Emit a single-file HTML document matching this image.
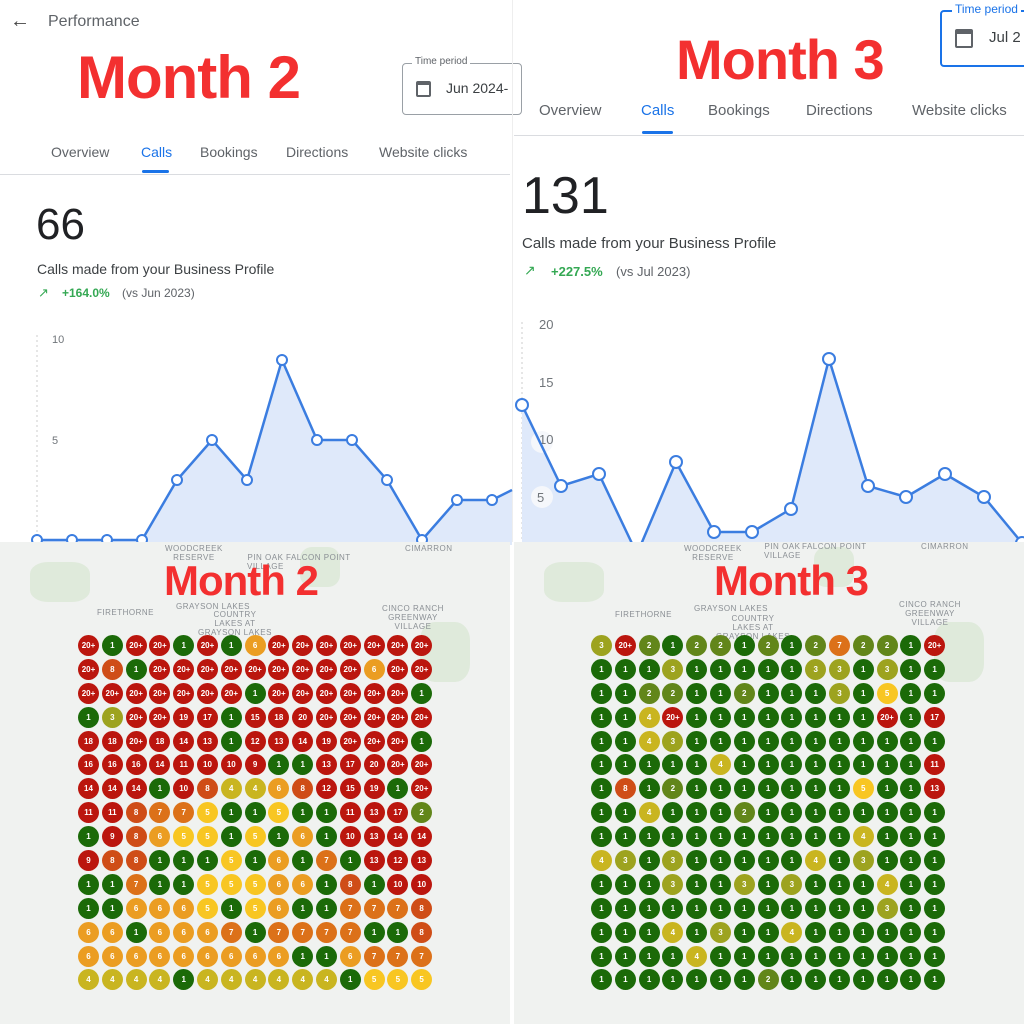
<!DOCTYPE html>
<html><head><meta charset="utf-8">
<style>
*{margin:0;padding:0;box-sizing:border-box}
body{width:1024px;height:1024px;position:relative;overflow:hidden;background:#fff;font-family:"Liberation Sans",Arial,sans-serif;color:#3c4043}
.a{position:absolute;white-space:nowrap}
.big{font-weight:bold;color:#f33030;letter-spacing:-1px}
.tab{font-size:14px;color:#5f6368}
.map{position:absolute;top:542px;height:482px;background:#f0f2f0;overflow:hidden}
.ml{position:absolute;font-size:8px;color:#8a8f94;letter-spacing:.5px;text-align:center;line-height:9px}
.g{position:absolute;display:grid;grid-template-columns:repeat(15,23.8px);grid-auto-rows:23.9px}
.g b{width:21px;height:21px;border-radius:50%;font-size:8px;font-weight:bold;color:#fff;display:flex;align-items:center;justify-content:center;background:#1b6a08}
.gr{position:absolute;background:#dfeadb;border-radius:30%}
</style></head><body>

<!-- LEFT TOP -->
<div class="a" style="left:10px;top:10px;font-size:20px;color:#444">&#8592;</div>
<div class="a" style="left:48px;top:13px;font-size:16px;color:#5f6368">Performance</div>
<div class="a big" style="left:77px;top:46px;font-size:60px;line-height:64px">Month 2</div>
<div class="a" style="left:402px;top:63px;width:120px;height:52px;border:1px solid #9aa0a6;border-radius:4px"></div>
<div class="a" style="left:412px;top:56px;font-size:10px;color:#5f6368;background:#fff;padding:0 3px">Time period</div>
<div class="a" style="left:416px;top:81px;width:15px;height:16px;border:2px solid #5f6368;border-top-width:4px;border-radius:2px"></div>
<div class="a" style="left:446px;top:80px;font-size:14px;color:#3c4043">Jun 2024-</div>
<div class="a tab" style="left:51px;top:144px">Overview</div>
<div class="a tab" style="left:141px;top:144px;color:#1a73e8">Calls</div>
<div class="a tab" style="left:200px;top:144px">Bookings</div>
<div class="a tab" style="left:286px;top:144px">Directions</div>
<div class="a tab" style="left:379px;top:144px">Website clicks</div>
<div class="a" style="left:142px;top:170px;width:27px;height:3px;background:#1a73e8;border-radius:2px"></div>
<div class="a" style="left:0;top:174px;width:510px;height:1px;background:#dadce0"></div>
<div class="a" style="left:36px;top:200px;font-size:44px;color:#202124">66</div>
<div class="a" style="left:37px;top:261px;font-size:14px;color:#3c4043">Calls made from your Business Profile</div>
<div class="a" style="left:38px;top:285px;font-size:13px;color:#34a853">&#8599;</div>
<div class="a" style="left:62px;top:286px;font-size:12px;color:#34a853;font-weight:bold">+164.0%</div>
<div class="a" style="left:122px;top:286px;font-size:12px;color:#5f6368">(vs Jun 2023)</div>

<!-- RIGHT TOP -->
<div class="a" style="left:512px;top:0;width:1px;height:542px;background:#eee"></div>
<div class="a big" style="left:676px;top:30px;font-size:56px;line-height:60px">Month 3</div>
<div class="a" style="left:940px;top:10px;width:100px;height:57px;border:2px solid #1a73e8;border-radius:4px"></div>
<div class="a" style="left:952px;top:2px;font-size:12px;color:#1a73e8;background:#fff;padding:0 3px">Time period</div>
<div class="a" style="left:955px;top:29px;width:18px;height:19px;border:2px solid #5f6368;border-top-width:5px;border-radius:2px"></div>
<div class="a" style="left:989px;top:29px;font-size:15px;color:#3c4043">Jul 2</div>
<div class="a tab" style="left:539px;top:102px;font-size:15px">Overview</div>
<div class="a tab" style="left:641px;top:102px;font-size:15px;color:#1a73e8">Calls</div>
<div class="a tab" style="left:708px;top:102px;font-size:15px">Bookings</div>
<div class="a tab" style="left:806px;top:102px;font-size:15px">Directions</div>
<div class="a tab" style="left:912px;top:102px;font-size:15px">Website clicks</div>
<div class="a" style="left:642px;top:131px;width:31px;height:3px;background:#1a73e8;border-radius:2px"></div>
<div class="a" style="left:514px;top:135px;width:510px;height:1px;background:#dadce0"></div>
<div class="a" style="left:522px;top:166px;font-size:52px;color:#202124">131</div>
<div class="a" style="left:522px;top:235px;font-size:15px;color:#3c4043">Calls made from your Business Profile</div>
<div class="a" style="left:524px;top:262px;font-size:14px;color:#34a853">&#8599;</div>
<div class="a" style="left:551px;top:264px;font-size:13px;color:#34a853;font-weight:bold">+227.5%</div>
<div class="a" style="left:616px;top:264px;font-size:13px;color:#5f6368">(vs Jul 2023)</div>

<!-- CHARTS -->
<svg class="a" style="left:0;top:0" width="1024" height="560">
 <line x1="37" y1="335" x2="37" y2="545" stroke="#ccc" stroke-dasharray="2,3"/>
 <text x="52" y="343" font-size="11" fill="#70757a" font-family="Liberation Sans">10</text>
 <text x="52" y="444" font-size="11" fill="#70757a" font-family="Liberation Sans">5</text>
 <polygon fill="#dfe9fa" points="37,540 72,540 107,540 142,540 177,480 212,440 247,480 282,360 317,440 352,440 387,480 422,540 457,500 492,500 512,490 512,545 37,545"/>
 <polyline fill="none" stroke="#3b7de0" stroke-width="2.5" points="37,540 72,540 107,540 142,540 177,480 212,440 247,480 282,360 317,440 352,440 387,480 422,540 457,500 492,500 512,490"/>
 <g fill="#fff" stroke="#3b7de0" stroke-width="2">
 <circle cx="37" cy="540" r="5"/><circle cx="72" cy="540" r="5"/><circle cx="107" cy="540" r="5"/><circle cx="142" cy="540" r="5"/><circle cx="177" cy="480" r="5"/><circle cx="212" cy="440" r="5"/><circle cx="247" cy="480" r="5"/><circle cx="282" cy="360" r="5"/><circle cx="317" cy="440" r="5"/><circle cx="352" cy="440" r="5"/><circle cx="387" cy="480" r="5"/><circle cx="422" cy="540" r="5"/><circle cx="457" cy="500" r="5"/><circle cx="492" cy="500" r="5"/>
 </g>
 <line x1="522" y1="322" x2="522" y2="545" stroke="#ccc" stroke-dasharray="2,3"/>
 <polygon fill="#dfe9fa" points="522,405 561,486 599,474 637,554 676,462 714,532 752,532 791,509 829,359 868,486 906,497 945,474 984,497 1022,543 1024,545 522,545"/>
 <text x="539" y="329" font-size="13" fill="#70757a" font-family="Liberation Sans">20</text>
 <text x="539" y="387" font-size="13" fill="#70757a" font-family="Liberation Sans">15</text>
 <circle cx="542" cy="442" r="11" fill="#f5f7fb"/><text x="539" y="444" font-size="13" fill="#70757a" font-family="Liberation Sans">10</text>
 <circle cx="542" cy="497" r="11" fill="#f5f7fb"/><text x="537" y="502" font-size="13" fill="#70757a" font-family="Liberation Sans">5</text>
 <polyline fill="none" stroke="#3b7de0" stroke-width="2.5" points="522,405 561,486 599,474 637,554 676,462 714,532 752,532 791,509 829,359 868,486 906,497 945,474 984,497 1022,543"/>
 <g fill="#fff" stroke="#3b7de0" stroke-width="2">
 <circle cx="522" cy="405" r="6"/><circle cx="561" cy="486" r="6"/><circle cx="599" cy="474" r="6"/><circle cx="676" cy="462" r="6"/><circle cx="714" cy="532" r="6"/><circle cx="752" cy="532" r="6"/><circle cx="791" cy="509" r="6"/><circle cx="829" cy="359" r="6"/><circle cx="868" cy="486" r="6"/><circle cx="906" cy="497" r="6"/><circle cx="945" cy="474" r="6"/><circle cx="984" cy="497" r="6"/><circle cx="1022" cy="543" r="6"/>
 </g>
</svg>

<!-- MAPS -->
<div class="map" style="left:0;width:510px">
 <div class="gr" style="left:300px;top:5px;width:40px;height:40px"></div>
 <div class="gr" style="left:420px;top:80px;width:50px;height:60px"></div>
 <div class="gr" style="left:30px;top:20px;width:60px;height:40px"></div>
 <div class="ml" style="left:165px;top:2px">WOODCREEK<br>RESERVE</div>
 <div class="ml" style="left:247px;top:11px">PIN OAK<br>VILLAGE</div>
 <div class="ml" style="left:286px;top:11px">FALCON POINT</div>
 <div class="ml" style="left:405px;top:2px">CIMARRON</div>
 <div class="ml" style="left:97px;top:66px">FIRETHORNE</div>
 <div class="ml" style="left:176px;top:60px">GRAYSON LAKES</div>
 <div class="ml" style="left:198px;top:68px">COUNTRY<br>LAKES AT<br>GRAYSON LAKES</div>
 <div class="ml" style="left:382px;top:62px">CINCO RANCH<br>GREENWAY<br>VILLAGE</div>
 <div class="a big" style="left:164px;top:15px;font-size:42px;line-height:48px">Month 2</div>
</div>
<div class="map" style="left:514px;width:510px">
 <div class="gr" style="left:300px;top:5px;width:40px;height:40px"></div>
 <div class="gr" style="left:420px;top:80px;width:50px;height:60px"></div>
 <div class="gr" style="left:30px;top:20px;width:60px;height:40px"></div>
 <div class="ml" style="left:170px;top:2px">WOODCREEK<br>RESERVE</div>
 <div class="ml" style="left:250px;top:0">PIN OAK<br>VILLAGE</div>
 <div class="ml" style="left:288px;top:0">FALCON POINT</div>
 <div class="ml" style="left:407px;top:0">CIMARRON</div>
 <div class="ml" style="left:101px;top:68px">FIRETHORNE</div>
 <div class="ml" style="left:180px;top:62px">GRAYSON LAKES</div>
 <div class="ml" style="left:202px;top:72px">COUNTRY<br>LAKES AT<br>GRAYSON LAKES</div>
 <div class="ml" style="left:385px;top:58px">CINCO RANCH<br>GREENWAY<br>VILLAGE</div>
 <div class="a big" style="left:200px;top:15px;font-size:42px;line-height:48px">Month 3</div>
</div>

<div class="g" id="g1" style="left:78px;top:635px">
<b>20+</b><b>1</b><b>20+</b><b>20+</b><b>1</b><b>20+</b><b>1</b><b>6</b><b>20+</b><b>20+</b><b>20+</b><b>20+</b><b>20+</b><b>20+</b><b>20+</b>
<b>20+</b><b>8</b><b>1</b><b>20+</b><b>20+</b><b>20+</b><b>20+</b><b>20+</b><b>20+</b><b>20+</b><b>20+</b><b>20+</b><b>6</b><b>20+</b><b>20+</b>
<b>20+</b><b>20+</b><b>20+</b><b>20+</b><b>20+</b><b>20+</b><b>20+</b><b>1</b><b>20+</b><b>20+</b><b>20+</b><b>20+</b><b>20+</b><b>20+</b><b>1</b>
<b>1</b><b>3</b><b>20+</b><b>20+</b><b>19</b><b>17</b><b>1</b><b>15</b><b>18</b><b>20</b><b>20+</b><b>20+</b><b>20+</b><b>20+</b><b>20+</b>
<b>18</b><b>18</b><b>20+</b><b>18</b><b>14</b><b>13</b><b>1</b><b>12</b><b>13</b><b>14</b><b>19</b><b>20+</b><b>20+</b><b>20+</b><b>1</b>
<b>16</b><b>16</b><b>16</b><b>14</b><b>11</b><b>10</b><b>10</b><b>9</b><b>1</b><b>1</b><b>13</b><b>17</b><b>20</b><b>20+</b><b>20+</b>
<b>14</b><b>14</b><b>14</b><b>1</b><b>10</b><b>8</b><b>4</b><b>4</b><b>6</b><b>8</b><b>12</b><b>15</b><b>19</b><b>1</b><b>20+</b>
<b>11</b><b>11</b><b>8</b><b>7</b><b>7</b><b>5</b><b>1</b><b>1</b><b>5</b><b>1</b><b>1</b><b>11</b><b>13</b><b>17</b><b>2</b>
<b>1</b><b>9</b><b>8</b><b>6</b><b>5</b><b>5</b><b>1</b><b>5</b><b>1</b><b>6</b><b>1</b><b>10</b><b>13</b><b>14</b><b>14</b>
<b>9</b><b>8</b><b>8</b><b>1</b><b>1</b><b>1</b><b>5</b><b>1</b><b>6</b><b>1</b><b>7</b><b>1</b><b>13</b><b>12</b><b>13</b>
<b>1</b><b>1</b><b>7</b><b>1</b><b>1</b><b>5</b><b>5</b><b>5</b><b>6</b><b>6</b><b>1</b><b>8</b><b>1</b><b>10</b><b>10</b>
<b>1</b><b>1</b><b>6</b><b>6</b><b>6</b><b>5</b><b>1</b><b>5</b><b>6</b><b>1</b><b>1</b><b>7</b><b>7</b><b>7</b><b>8</b>
<b>6</b><b>6</b><b>1</b><b>6</b><b>6</b><b>6</b><b>7</b><b>1</b><b>7</b><b>7</b><b>7</b><b>7</b><b>1</b><b>1</b><b>8</b>
<b>6</b><b>6</b><b>6</b><b>6</b><b>6</b><b>6</b><b>6</b><b>6</b><b>6</b><b>1</b><b>1</b><b>6</b><b>7</b><b>7</b><b>7</b>
<b>4</b><b>4</b><b>4</b><b>4</b><b>1</b><b>4</b><b>4</b><b>4</b><b>4</b><b>4</b><b>4</b><b>1</b><b>5</b><b>5</b><b>5</b>
</div>

<div class="g" id="g2" style="left:591px;top:635px">
<b>3</b><b>20+</b><b>2</b><b>1</b><b>2</b><b>2</b><b>1</b><b>2</b><b>1</b><b>2</b><b>7</b><b>2</b><b>2</b><b>1</b><b>20+</b>
<b>1</b><b>1</b><b>1</b><b>3</b><b>1</b><b>1</b><b>1</b><b>1</b><b>1</b><b>3</b><b>3</b><b>1</b><b>3</b><b>1</b><b>1</b>
<b>1</b><b>1</b><b>2</b><b>2</b><b>1</b><b>1</b><b>2</b><b>1</b><b>1</b><b>1</b><b>3</b><b>1</b><b>5</b><b>1</b><b>1</b>
<b>1</b><b>1</b><b>4</b><b>20+</b><b>1</b><b>1</b><b>1</b><b>1</b><b>1</b><b>1</b><b>1</b><b>1</b><b>20+</b><b>1</b><b>17</b>
<b>1</b><b>1</b><b>4</b><b>3</b><b>1</b><b>1</b><b>1</b><b>1</b><b>1</b><b>1</b><b>1</b><b>1</b><b>1</b><b>1</b><b>1</b>
<b>1</b><b>1</b><b>1</b><b>1</b><b>1</b><b>4</b><b>1</b><b>1</b><b>1</b><b>1</b><b>1</b><b>1</b><b>1</b><b>1</b><b>11</b>
<b>1</b><b>8</b><b>1</b><b>2</b><b>1</b><b>1</b><b>1</b><b>1</b><b>1</b><b>1</b><b>1</b><b>5</b><b>1</b><b>1</b><b>13</b>
<b>1</b><b>1</b><b>4</b><b>1</b><b>1</b><b>1</b><b>2</b><b>1</b><b>1</b><b>1</b><b>1</b><b>1</b><b>1</b><b>1</b><b>1</b>
<b>1</b><b>1</b><b>1</b><b>1</b><b>1</b><b>1</b><b>1</b><b>1</b><b>1</b><b>1</b><b>1</b><b>4</b><b>1</b><b>1</b><b>1</b>
<b>4</b><b>3</b><b>1</b><b>3</b><b>1</b><b>1</b><b>1</b><b>1</b><b>1</b><b>4</b><b>1</b><b>3</b><b>1</b><b>1</b><b>1</b>
<b>1</b><b>1</b><b>1</b><b>3</b><b>1</b><b>1</b><b>3</b><b>1</b><b>3</b><b>1</b><b>1</b><b>1</b><b>4</b><b>1</b><b>1</b>
<b>1</b><b>1</b><b>1</b><b>1</b><b>1</b><b>1</b><b>1</b><b>1</b><b>1</b><b>1</b><b>1</b><b>1</b><b>3</b><b>1</b><b>1</b>
<b>1</b><b>1</b><b>1</b><b>4</b><b>1</b><b>3</b><b>1</b><b>1</b><b>4</b><b>1</b><b>1</b><b>1</b><b>1</b><b>1</b><b>1</b>
<b>1</b><b>1</b><b>1</b><b>1</b><b>4</b><b>1</b><b>1</b><b>1</b><b>1</b><b>1</b><b>1</b><b>1</b><b>1</b><b>1</b><b>1</b>
<b>1</b><b>1</b><b>1</b><b>1</b><b>1</b><b>1</b><b>1</b><b>2</b><b>1</b><b>1</b><b>1</b><b>1</b><b>1</b><b>1</b><b>1</b>
</div>

<script>
var C={1:"#1b6a08",2:"#62861a",3:"#9da31f",4:"#c9b520",5:"#f8c622",6:"#eb9d22",7:"#dc7119",8:"#cf4d17"};
document.querySelectorAll('.g b').forEach(function(e){var v=parseInt(e.textContent);e.style.background=C[v]||"#bb160e";});
</script>
</body></html>
